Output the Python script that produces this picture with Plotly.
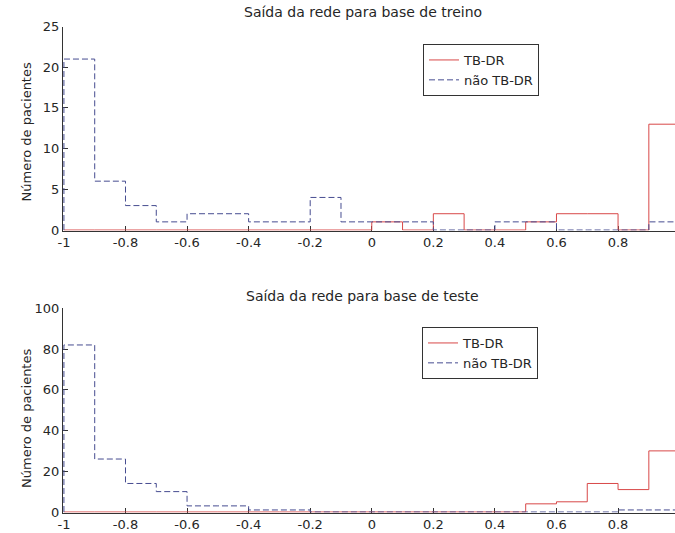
import plotly.graph_objects as go

# ---- data ----
bin_edges = [-1.0, -0.9, -0.8, -0.7, -0.6, -0.5, -0.4, -0.3, -0.2, -0.1, 0.0,
             0.1, 0.2, 0.3, 0.4, 0.5, 0.6, 0.7, 0.8, 0.9, 1.0]

train_tbdr = [0, 0, 0, 0, 0, 0, 0, 0, 0, 0, 1, 0, 2, 0, 0, 1, 2, 2, 0, 13]
train_nao = [21, 6, 3, 1, 2, 2, 1, 1, 4, 1, 1, 1, 0, 0, 1, 1, 0, 0, 0, 1]

test_tbdr = [0, 0, 0, 0, 0, 0, 0, 0, 0, 0, 0, 0, 0, 0, 0, 4, 5, 14, 11, 30]
test_nao = [82, 26, 14, 10, 3, 3, 1, 1, 0, 0, 0, 0, 0, 0, 0, 0, 0, 0, 1, 1]

x_tickvals = [-1, -0.8, -0.6, -0.4, -0.2, 0, 0.2, 0.4, 0.6, 0.8, 1]
x_ticktext = ["-1", "-0.8", "-0.6", "-0.4", "-0.2", "0", "0.2", "0.4", "0.6", "0.8", "1"]
y1_ticks = [0, 5, 10, 15, 20, 25]
y2_ticks = [0, 20, 40, 60, 80, 100]

series_names = ["TB-DR", "não TB-DR"]
titles = ["Saída da rede para base de treino", "Saída da rede para base de teste"]
ylabel = "Número de pacientes"

RED = "#d84848"
BLUE = "#464c90"
FONT = "DejaVu Sans"
TXT = "#262626"


def stairs(edges, counts):
    xs = [edges[0]] + list(edges) + [edges[-1]]
    ys = [0] + list(counts) + [counts[-1], 0]
    return xs, ys


W, H = 675, 533
fig = go.Figure()

panels = [
    (train_tbdr, train_nao, "x", "y", "legend"),
    (test_tbdr, test_nao, "x2", "y2", "legend2"),
]
for i, (tb, nao, xa, ya, lg) in enumerate(panels):
    xs, ys = stairs(bin_edges, tb)
    fig.add_trace(go.Scatter(x=xs, y=ys, mode="lines", line_shape="hv",
                             line=dict(color=RED, width=1), name=series_names[0],
                             xaxis=xa, yaxis=ya, legend=lg))
    xs, ys = stairs(bin_edges, nao)
    fig.add_trace(go.Scatter(x=xs, y=ys, mode="lines", line_shape="hv",
                             line=dict(color=BLUE, width=1, dash="6px,3px"),
                             name=series_names[1], xaxis=xa, yaxis=ya, legend=lg))

L = 63


def py(p):
    return (H - p) / H


def px(p):
    return (p - L) / (W - L)


xcommon = dict(range=[-1.003, 0.985], tickvals=x_tickvals, ticktext=x_ticktext,
               ticks="inside", ticklen=5, tickcolor="#333", showline=True,
               linecolor="#333", linewidth=1, showgrid=False, zeroline=False,
               tickfont=dict(family=FONT, size=13, color=TXT), layer="below traces",
               fixedrange=True)
ycommon = dict(ticks="inside", ticklen=5, tickcolor="#333", showline=True,
               linecolor="#333", linewidth=1, showgrid=False, zeroline=False,
               tickfont=dict(family=FONT, size=13, color=TXT), layer="below traces",
               fixedrange=True)

fig.update_layout(
    width=W, height=H,
    margin=dict(l=L, r=0, t=0, b=0, autoexpand=False),
    paper_bgcolor="white", plot_bgcolor="white",
    font=dict(family=FONT, color=TXT),
    xaxis=dict(domain=[0, 1], anchor="y", **xcommon),
    yaxis=dict(domain=[py(230.5), py(26.5)], anchor="x", range=[-0.06, 25],
               tickvals=y1_ticks, **ycommon),
    xaxis2=dict(domain=[0, 1], anchor="y2", **xcommon),
    yaxis2=dict(domain=[py(512.5), py(308.3)], anchor="x2", range=[-0.25, 100],
                tickvals=y2_ticks, **ycommon),
    legend=dict(x=px(423), y=py(44), xanchor="left", yanchor="top",
                bordercolor="#333", borderwidth=1, bgcolor="white",
                font=dict(family=FONT, size=13, color=TXT), itemwidth=30),
    legend2=dict(x=px(422), y=py(327), xanchor="left", yanchor="top",
                 bordercolor="#333", borderwidth=1, bgcolor="white",
                 font=dict(family=FONT, size=13, color=TXT), itemwidth=30),
    showlegend=True,
)

annotations = [
    dict(text=titles[0], x=px(362.5), y=py(12.5), xref="paper", yref="paper",
         showarrow=False, font=dict(family=FONT, size=14, color=TXT),
         xanchor="center", yanchor="middle"),
    dict(text=titles[1], x=px(362.5), y=py(296), xref="paper", yref="paper",
         showarrow=False, font=dict(family=FONT, size=14, color=TXT),
         xanchor="center", yanchor="middle"),
    dict(text=ylabel, x=px(26), y=py(132.5), xref="paper", yref="paper",
         showarrow=False, textangle=-90, font=dict(family=FONT, size=13, color=TXT),
         xanchor="center", yanchor="middle"),
    dict(text=ylabel, x=px(26), y=py(419), xref="paper", yref="paper",
         showarrow=False, textangle=-90, font=dict(family=FONT, size=13, color=TXT),
         xanchor="center", yanchor="middle"),
]
fig.update_layout(annotations=annotations)

fig.write_html(
    "out.html",
    config={"displayModeBar": False, "staticPlot": True},
    post_script="document.body.style.margin='0';document.body.style.overflow='hidden';"
                "document.documentElement.style.overflow='hidden';",
)
